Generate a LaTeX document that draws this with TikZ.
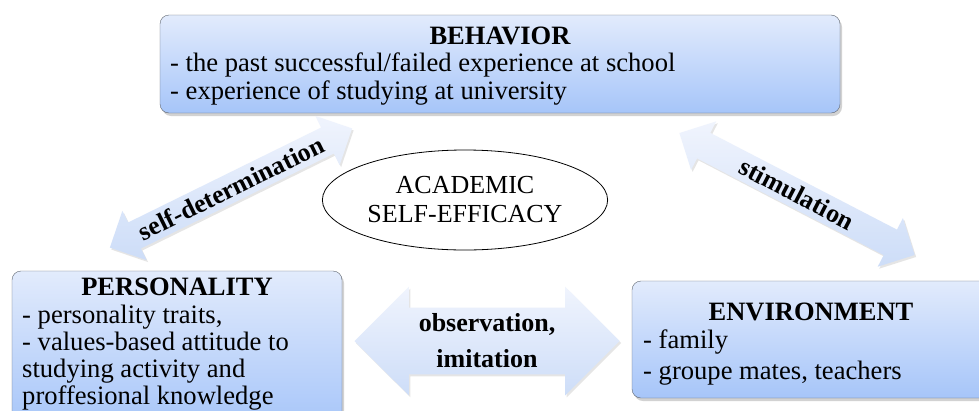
\documentclass[tikz,border=0pt]{standalone}
\usepackage{fontspec}
\setmainfont{Liberation Serif}
\usepackage{xcolor}
\definecolor{skytop}{HTML}{E2EBFC}
\definecolor{skybot}{HTML}{A6C5F9}
\definecolor{mist}{HTML}{F0F4FD}
\definecolor{mistdark}{HTML}{CDDDF8}
\definecolor{frame}{HTML}{5F6670}
\usetikzlibrary{positioning, shapes.geometric, shapes.arrows, shadows}

\tikzset{
  factor/.style={draw=frame, rounded corners=9pt, top color=skytop, bottom color=skybot,
    drop shadow={shadow xshift=2pt, shadow yshift=-3pt, opacity=0.35}},
  headline/.style={font=\fontsize{26.5}{28}\selectfont\bfseries, inner sep=0pt},
  bodytext/.style={font=\fontsize{26.6}{28}\selectfont, align=left, anchor=west, inner sep=0pt},
  link/.style={double arrow, double arrow tip angle=90, top color=mist, bottom color=mistdark,
    align=center, inner xsep=0pt,
    drop shadow={shadow xshift=1.5pt, shadow yshift=-2pt, opacity=0.2}},
}

\begin{document}
\begin{tikzpicture}[x=1pt, y=-1pt]
  \clip (0,0) rectangle (979,410);
  \fill[white] (0,0) rectangle (979,410);

  % Behavior box
  \node[factor, minimum width=680pt, minimum height=98pt] (behav) at (500,64) {};
  \node[headline] (behavhead) at (500,36) {BEHAVIOR};
  \node[bodytext] (behavtext) at (170,79) {- the past successful/failed experience at school\\
    - experience of studying at university};

  % Personality box
  \node[factor, minimum width=330pt, minimum height=158pt] (person) at (177,350) {};
  \node[headline] (personhead) at (177,287) {PERSONALITY};
  \node[bodytext, font=\fontsize{26.6}{27}\selectfont] (persontext) at (22,358) {- personality traits,\\
    - values-based attitude to\\ studying activity and\\ proffesional knowledge};

  % Environment box
  \node[factor, minimum width=358pt, minimum height=117pt] (envir) at (811,339.5) {};
  \node[headline] (envirhead) at (811,312) {ENVIRONMENT};
  \node[bodytext, font=\fontsize{26.6}{31}\selectfont] (envirtext) at (643,357) {- family\\
    - groupe mates, teachers};

  % Academic self-efficacy
  \node[draw, thick, ellipse, minimum width=280pt, minimum height=100pt, align=center,
    font=\fontsize{26}{29}\selectfont] (selfeff) at (465,200) {ACADEMIC\\SELF-EFFICACY};

  % Double arrows
  \node[link, rotate=26.2, minimum height=270pt, double arrow head extend=13pt,
    inner ysep=5pt, font=\fontsize{26}{27}\selectfont\bfseries] (selfdet) at (231,188)
    {self-determination};
  \node[link, rotate=-27.4, minimum height=265pt, double arrow head extend=13pt,
    inner ysep=5pt, font=\fontsize{26}{27}\selectfont\bfseries] (stimul) at (797,194)
    {stimulation};
  \node[link, minimum height=265pt, double arrow head extend=21pt,
    inner ysep=6pt, font=\fontsize{26}{36}\selectfont\bfseries] (observ) at (487,341)
    {observation,\\imitation};
\end{tikzpicture}
\end{document}
